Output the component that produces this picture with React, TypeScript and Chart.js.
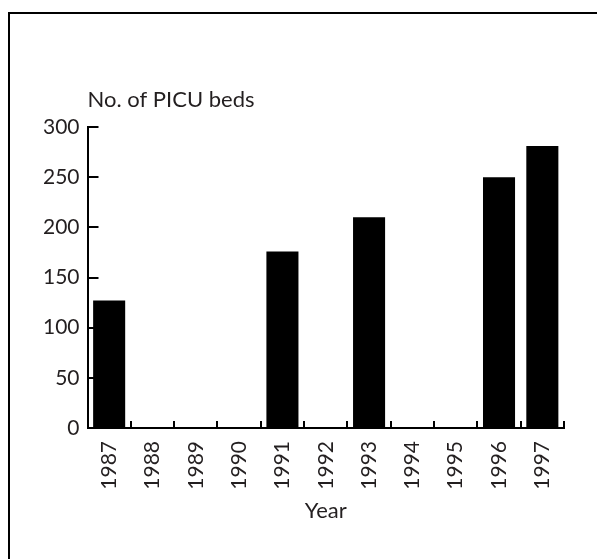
import React, { useEffect, useRef } from "react";
import { Chart, registerables } from "chart.js";

Chart.register(...registerables);

const years = ["1987", "1988", "1989", "1990", "1991", "1992", "1993", "1994", "1995", "1996", "1997"];
const beds: (number | null)[] = [127, null, null, null, 176, null, 210, null, null, 250, 281];
const yTickValues = [0, 50, 100, 150, 200, 250, 300];
const yLabel = "No. of PICU beds";
const xLabel = "Year";

const TEXT = "#231f20";
const FONT = "Lato, 'Open Sans', sans-serif";

const inwardTicks = {
  id: "inwardTicks",
  afterDraw(chart: any) {
    const { ctx, chartArea, scales } = chart;
    const x = scales.x;
    const y = scales.y;
    ctx.save();
    ctx.strokeStyle = "#000";
    ctx.lineWidth = 2;
    ctx.lineCap = "butt";
    yTickValues.forEach((v) => {
      const py = Math.round(y.getPixelForValue(v));
      ctx.beginPath();
      ctx.moveTo(chartArea.left, py);
      ctx.lineTo(chartArea.left + 11, py);
      ctx.stroke();
    });
    for (let i = 0; i <= years.length; i++) {
      const px = Math.round(x.getPixelForValue(i - 0.5));
      ctx.beginPath();
      ctx.moveTo(px, chartArea.bottom);
      ctx.lineTo(px, chartArea.bottom - 7);
      ctx.stroke();
    }
    ctx.fillStyle = TEXT;
    ctx.font = `22px ${FONT}`;
    ctx.textAlign = "left";
    ctx.textBaseline = "alphabetic";
    ctx.fillText(yLabel, chartArea.left, chartArea.top - 20);
    ctx.restore();
  },
};

export default function App() {
  const ref = useRef<HTMLCanvasElement | null>(null);

  useEffect(() => {
    if (!ref.current) return;
    Chart.defaults.font.family = FONT;
    Chart.defaults.color = TEXT;
    const chart = new Chart(ref.current, {
      type: "bar",
      data: {
        labels: years,
        datasets: [
          {
            data: beds,
            backgroundColor: "#000",
            borderWidth: 0,
            barPercentage: 0.74,
            categoryPercentage: 1,
          },
        ],
      },
      options: {
        responsive: false,
        animation: false,
        layout: { padding: { left: 0, right: 41, top: 113, bottom: 35 } },
        plugins: { legend: { display: false }, tooltip: { enabled: false } },
        scales: {
          x: {
            grid: { display: false, drawTicks: false },
            border: { display: true, color: "#000", width: 2 },
            ticks: {
              autoSkip: false,
              minRotation: 90,
              maxRotation: 90,
              padding: 13,
              color: TEXT,
              font: { size: 21, family: FONT },
            },
            title: {
              display: true,
              text: xLabel,
              color: TEXT,
              font: { size: 22, family: FONT },
              padding: { top: 0, bottom: 0 },
            },
            afterFit: (scale: any) => {
              scale.height = 96;
            },
          },
          y: {
            min: 0,
            max: 300,
            grid: { display: false, drawTicks: false },
            border: { display: true, color: "#000", width: 2 },
            ticks: {
              stepSize: 50,
              padding: 8,
              color: TEXT,
              font: { size: 21, family: FONT },
            },
            afterFit: (scale: any) => {
              scale.width = 77.5;
            },
          },
        },
      },
      plugins: [inwardTicks],
    });
    return () => chart.destroy();
  }, []);

  return (
    <div
      style={{
        marginTop: 4,
        borderTop: "2px solid #000",
        borderLeft: "2px solid #000",
        width: 595,
        height: 545,
        overflow: "hidden",
      }}
    >
      <canvas ref={ref} width={595} height={545} style={{ display: "block" }} />
    </div>
  );
}
